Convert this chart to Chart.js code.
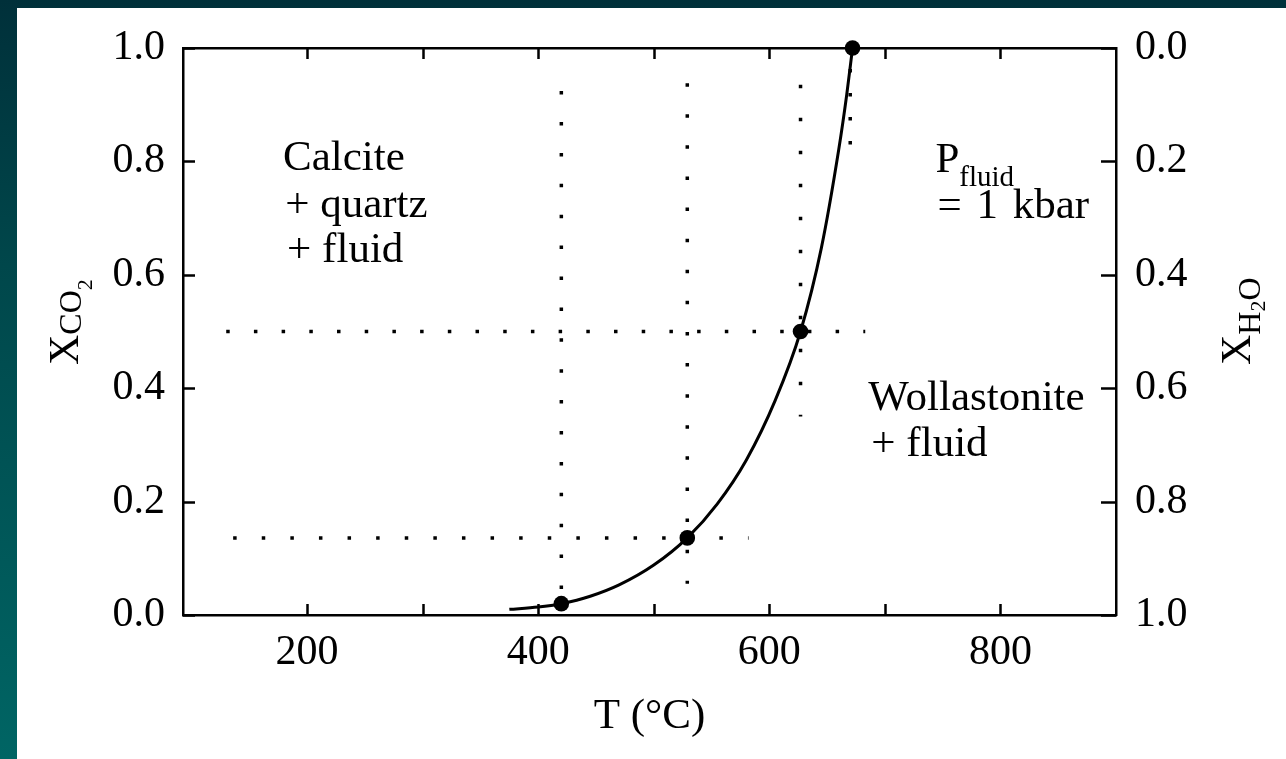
<!DOCTYPE html>
<html>
<head>
<meta charset="utf-8">
<title>Calcite + quartz = wollastonite + CO2</title>
<script src="https://cdn.jsdelivr.net/npm/chart.js@4.4.1/dist/chart.umd.min.js"></script>
<style>
  html, body { margin: 0; padding: 0; width: 1286px; height: 759px; overflow: hidden; }
  body { background: linear-gradient(180deg, #00303a 0%, #00474b 35%, #006564 100%); position: relative; }
  #frame { position: absolute; left: 17px; top: 8px; width: 1269px; height: 751px; background: #ffffff; }
  canvas { display: block; }
</style>
</head>
<body>
<div id="frame"><canvas id="chart" width="1269" height="751"></canvas></div>
<script>
// Reaction curve: temperature (°C) against mole fraction of CO2 in the fluid
const curveT = [375, 400, 420, 445, 470, 500, 529, 555, 580, 605, 627, 645, 660, 667, 672];
const curveX = [0.010, 0.014, 0.020, 0.033, 0.053, 0.088, 0.136, 0.196, 0.273, 0.378, 0.500, 0.647, 0.820, 0.918, 1.000];

// Marked points on the curve
const pointT = [420, 529, 627, 672];
const pointX = [0.02, 0.136, 0.5, 1.0];

// Dotted guide lines: vertical (constant T) and horizontal (constant X)
const vGuideT = [420, 529, 627, 670];
const vGuideTop = [0.924, 0.938, 0.935, 0.963];
const vGuideBottom = [0.04, 0.055, 0.35, 0.83];
const hGuideX = [0.5, 0.136];
const hGuideLeft = [130, 136];
const hGuideRight = [683, 582];

// Axis ticks
const tempTicks = [200, 300, 400, 500, 600, 700, 800];
const tempLabelStep = 200;
const fracTicks = [0, 0.2, 0.4, 0.6, 0.8, 1.0];
const tempRange = [92.6, 900];

const SERIF = "'Liberation Serif', 'Times New Roman', Times, serif";
const INK = '#000000';
const DOT = 3.5;                       // dot size of the guide lines
const vGap = [27.4, 27.6, 29.5, 20.5]; // spacing of dots on vertical guides
const hGap = [24.2, 25.1];             // spacing of dots on horizontal guides

const datasets = [];
vGuideT.forEach((t, i) => {
  datasets.push({
    type: 'line',
    data: [{ x: t, y: vGuideTop[i] }, { x: t, y: vGuideBottom[i] }],
    borderColor: INK, borderWidth: DOT, borderDash: [DOT, vGap[i]], borderCapStyle: 'butt',
    pointRadius: 0, fill: false, clip: false, order: 3
  });
});
hGuideX.forEach((xv, i) => {
  datasets.push({
    type: 'line',
    data: [{ x: hGuideLeft[i], y: xv }, { x: hGuideRight[i], y: xv }],
    borderColor: INK, borderWidth: DOT, borderDash: [DOT, hGap[i]], borderCapStyle: 'butt',
    pointRadius: 0, fill: false, clip: false, order: 3
  });
});
datasets.push({
  type: 'line',
  data: curveT.map((t, i) => ({ x: t, y: curveX[i] })),
  borderColor: INK, borderWidth: 3,
  cubicInterpolationMode: 'monotone', pointRadius: 0, fill: false, clip: false, order: 2
});
datasets.push({
  type: 'scatter',
  data: pointT.map((t, i) => ({ x: t, y: pointX[i] })),
  backgroundColor: INK, borderColor: INK,
  pointRadius: 7.8, pointBorderWidth: 0, showLine: false, clip: false, order: 1
});

function setTicks(values) {
  return (scale) => { scale.ticks = values.map(v => ({ value: v })); };
}

// Text drawn in runs so that subscripts can be lowered and shrunk
function drawRuns(ctx, runs, x, y) {
  let cx = x;
  for (const r of runs) {
    ctx.font = r.size + 'px ' + SERIF;
    ctx.fillText(r.text, cx, y + (r.dy || 0));
    cx += ctx.measureText(r.text).width + (r.gap || 0);
  }
}

const decorations = {
  id: 'decorations',
  afterDraw(chart) {
    const { ctx, chartArea: a, scales } = chart;
    const sx = scales.x, sy = scales.y, sy2 = scales.y2;
    ctx.save();
    // inward tick marks on all four sides
    ctx.strokeStyle = INK;
    ctx.lineWidth = 2.5;
    ctx.beginPath();
    tempTicks.forEach(v => {
      const px = Math.round(sx.getPixelForValue(v)) + 0.5;
      ctx.moveTo(px, a.bottom); ctx.lineTo(px, a.bottom - 11);
      ctx.moveTo(px, a.top); ctx.lineTo(px, a.top + 11);
    });
    fracTicks.forEach(v => {
      const py = Math.round(sy.getPixelForValue(v)) + 0.5;
      ctx.moveTo(a.left, py); ctx.lineTo(a.left + 12, py);
      const py2 = Math.round(sy2.getPixelForValue(v)) + 0.5;
      ctx.moveTo(a.right, py2); ctx.lineTo(a.right - 15, py2);
    });
    ctx.stroke();

    // field labels
    ctx.fillStyle = INK;
    ctx.textBaseline = 'alphabetic';
    ctx.textAlign = 'left';
    const at = (t, xv) => [sx.getPixelForValue(t), sy.getPixelForValue(xv)];
    const lines = [
      ['Calcite', 179.2, 0.785],
      ['+ quartz', 181, 0.702],
      ['+ fluid', 182.7, 0.6226],
      ['Wollastonite', 685.7, 0.3616],
      ['+ fluid', 688.3, 0.2804]
    ];
    ctx.font = '43px ' + SERIF;
    lines.forEach(([txt, t, xv]) => {
      const [px, py] = at(t, xv);
      ctx.fillText(txt, px, py);
    });
    const [kx, ky] = at(745.5, 0.700);
    ctx.save();
    ctx.wordSpacing = '4px';
    ctx.fillText('= 1 kbar', kx, ky);
    ctx.restore();
    const [pfx, pfy] = at(743.7, 0.781);
    drawRuns(ctx, [{ text: 'P', size: 43 }, { text: 'fluid', size: 29, dy: 14 }], pfx, pfy);

    // left axis title X_CO2
    ctx.save();
    ctx.translate(a.left - 105, a.bottom - 250);
    ctx.rotate(-Math.PI / 2);
    drawRuns(ctx, [
      { text: 'X', size: 42 },
      { text: 'CO', size: 32, dy: 3 },
      { text: '2', size: 22, dy: 14 }
    ], 0, 0);
    ctx.restore();

    // right axis title X_H2O
    ctx.save();
    ctx.translate(a.right + 134, a.bottom - 250);
    ctx.rotate(-Math.PI / 2);
    drawRuns(ctx, [
      { text: 'X', size: 42 },
      { text: 'H', size: 32, dy: 10 },
      { text: '2', size: 22, dy: 15 },
      { text: 'O', size: 32, dy: 10 }
    ], 0, 0);
    ctx.restore();

    ctx.restore();
  }
};

const tickFont = { family: SERIF, size: 42 };
const axisBorder = { display: true, color: INK, width: 2.5 };
const noGrid = { display: false, drawTicks: false, tickLength: 0 };
const fitVertical = (w) => (s) => { s.width = w; s.paddingTop = 0; s.paddingBottom = 0; };
const fitHorizontal = (h) => (s) => { s.height = h; s.paddingLeft = 0; s.paddingRight = 0; };

new Chart(document.getElementById('chart'), {
  type: 'line',
  data: { datasets },
  options: {
    responsive: false,
    animation: false,
    events: [],
    layout: { padding: 0 },
    plugins: { legend: { display: false }, tooltip: { enabled: false } },
    scales: {
      x: {
        type: 'linear', position: 'bottom', min: tempRange[0], max: tempRange[1],
        afterBuildTicks: setTicks(tempTicks),
        afterFit: fitHorizontal(144),
        grid: noGrid,
        border: axisBorder,
        ticks: {
          color: INK, font: tickFont, padding: 13, maxRotation: 0, autoSkip: false,
          callback: v => (v % tempLabelStep === 0 ? String(v) : '')
        },
        title: { display: true, text: 'T (°C)', color: INK, font: { family: SERIF, size: 43 }, padding: { top: 0, bottom: 16 } }
      },
      x2: {
        type: 'linear', position: 'top', min: tempRange[0], max: tempRange[1],
        afterBuildTicks: setTicks(tempTicks),
        afterFit: fitHorizontal(40),
        grid: noGrid,
        border: axisBorder,
        ticks: { display: false }
      },
      y: {
        type: 'linear', position: 'left', min: 0, max: 1,
        afterBuildTicks: setTicks(fracTicks),
        afterFit: fitVertical(166),
        grid: noGrid,
        border: axisBorder,
        ticks: { color: INK, font: tickFont, padding: 18, callback: v => v.toFixed(1) }
      },
      y2: {
        type: 'linear', position: 'right', min: 0, max: 1, reverse: true,
        afterBuildTicks: setTicks(fracTicks),
        afterFit: fitVertical(170),
        grid: noGrid,
        border: axisBorder,
        ticks: { color: INK, font: tickFont, padding: 19, callback: v => v.toFixed(1) }
      }
    }
  },
  plugins: [decorations]
});
</script>
</body>
</html>
